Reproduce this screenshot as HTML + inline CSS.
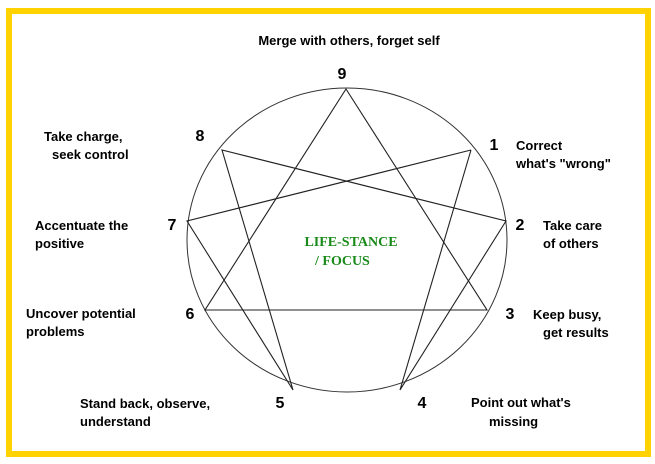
<!DOCTYPE html>
<html><head><meta charset="utf-8"><style>
html,body{margin:0;padding:0;background:#fff;width:655px;height:464px;overflow:hidden}
svg{display:block}
.l{font-family:"Liberation Sans",sans-serif;font-weight:bold;font-size:13px;fill:#000}
.n{font-family:"Liberation Sans",sans-serif;font-weight:bold;font-size:16px;fill:#000}
.g{font-family:"Liberation Serif",serif;font-weight:bold;font-size:14px;fill:#1a8a1a}
</style></head><body>
<svg width="655" height="464" viewBox="0 0 655 464" xmlns="http://www.w3.org/2000/svg">
<rect x="9" y="11" width="639" height="443" fill="#fff" stroke="#ffd200" stroke-width="6"/>
<ellipse cx="347" cy="240" rx="160" ry="152" fill="none" stroke="#333" stroke-width="1"/>
<g stroke="#222" stroke-width="1.1" fill="none">
<polygon points="346,89 487,310 205,310"/>
<polyline points="471,150 400,390 506,221 222,150 293,390 187,221 471,150"/>
</g>
<text class="l" x="349" y="45" text-anchor="middle">Merge with others, forget self</text>
<text class="n" x="342" y="79" text-anchor="middle">9</text>
<text class="n" x="200" y="141" text-anchor="middle">8</text>
<text class="n" x="494" y="150" text-anchor="middle">1</text>
<text class="n" x="172" y="230" text-anchor="middle">7</text>
<text class="n" x="520" y="230" text-anchor="middle">2</text>
<text class="n" x="190" y="319" text-anchor="middle">6</text>
<text class="n" x="510" y="319" text-anchor="middle">3</text>
<text class="n" x="280" y="408" text-anchor="middle">5</text>
<text class="n" x="422" y="408" text-anchor="middle">4</text>
<text class="l" x="44" y="141">Take charge,</text>
<text class="l" x="52" y="159">seek control</text>
<text class="l" x="516" y="150">Correct</text>
<text class="l" x="516" y="168">what's "wrong"</text>
<text class="l" x="35" y="230">Accentuate the</text>
<text class="l" x="35" y="248">positive</text>
<text class="l" x="543" y="230">Take care</text>
<text class="l" x="543" y="248">of others</text>
<text class="l" x="26" y="318">Uncover potential</text>
<text class="l" x="26" y="336">problems</text>
<text class="l" x="533" y="319">Keep busy,</text>
<text class="l" x="543" y="337">get results</text>
<text class="l" x="80" y="408">Stand back, observe,</text>
<text class="l" x="80" y="426">understand</text>
<text class="l" x="471" y="407">Point out what's</text>
<text class="l" x="489" y="426">missing</text>
<text class="g" x="351" y="246" text-anchor="middle">LIFE-STANCE</text>
<text class="g" x="315" y="265">/ FOCUS</text>
</svg>
</body></html>
